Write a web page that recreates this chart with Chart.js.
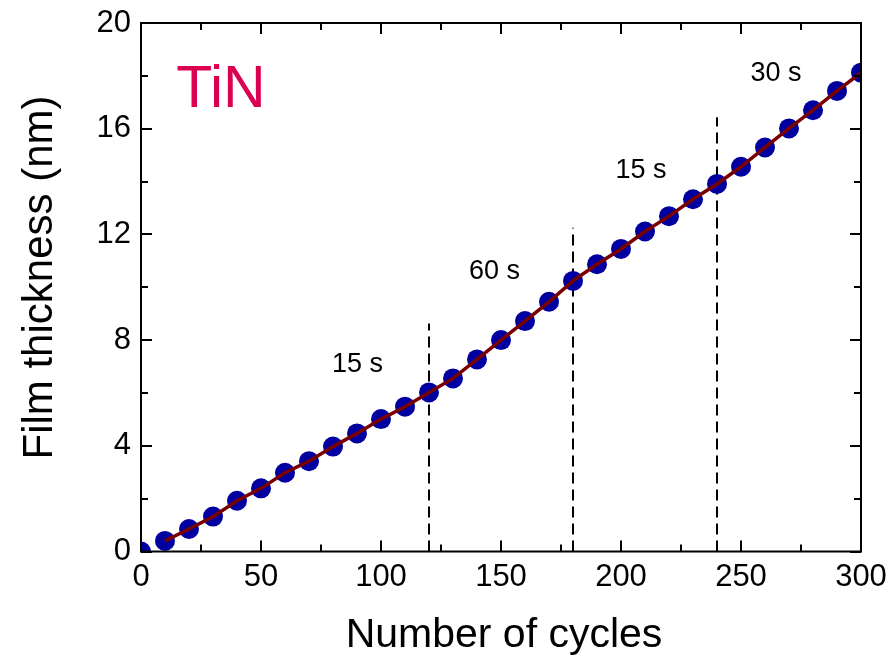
<!DOCTYPE html>
<html>
<head>
<meta charset="utf-8">
<script src="https://cdn.jsdelivr.net/npm/chart.js@4.4.1/dist/chart.umd.min.js"></script>
<style>
  html, body { margin: 0; padding: 0; background: #ffffff; }
  #wrap { width: 892px; height: 660px; position: relative; }
</style>
</head>
<body>
<div id="wrap"><canvas id="c" width="892" height="660"></canvas></div>
<script>
// Film thickness of TiN versus number of ALD cycles
const cycles = [0, 10, 20, 30, 40, 50, 60, 70, 80, 90, 100, 110, 120, 130, 140, 150,
  160, 170, 180, 190, 200, 210, 220, 230, 240, 250, 260, 270, 280, 290, 300];
const thickness = [0, 0.40, 0.85, 1.32, 1.92, 2.39, 2.98, 3.42, 3.97, 4.47, 5.01, 5.48, 6.02,
  6.55, 7.27, 8.00, 8.72, 9.45, 10.24, 10.87, 11.45, 12.11, 12.69, 13.33, 13.91,
  14.56, 15.29, 16.01, 16.70, 17.43, 18.12];

// Cycles where the purge time was changed, and the height of each marker line
const switchCycles = [120, 180, 240];
const switchTops = [8.63, 12.25, 16.43];

// Purge-time annotations (text, cycle, thickness)
const stepLabels = ['15 s', '60 s', '15 s', '30 s'];
const stepLabelX = [90.2, 147.3, 208.3, 264.6];
const stepLabelY = [7.09, 10.61, 14.4, 18.07];

const xTicks = [0, 50, 100, 150, 200, 250, 300];
const yTicks = [0, 4, 8, 12, 16, 20];

const FONT = '"Liberation Sans", Arial, sans-serif';

const points = cycles.map((c, i) => ({ x: c, y: thickness[i] }));
const fitLine = points.slice(1);

const datasets = [
  {
    label: 'fit', type: 'line', data: fitLine, order: 0,
    borderColor: '#7a0000', borderWidth: 3.5, pointRadius: 0, fill: false, tension: 0
  },
  {
    label: 'TiN', type: 'scatter', data: points, order: 1, clip: 0,
    backgroundColor: '#0000a0', borderColor: '#0000a0', borderWidth: 0, pointRadius: 10,
    pointHoverRadius: 10
  }
];
switchCycles.forEach((c, i) => {
  datasets.push({
    label: 'switch' + i, type: 'line', order: 2,
    data: [{ x: c, y: 0 }, { x: c, y: switchTops[i] }],
    borderColor: '#000000', borderWidth: 2, borderDash: [11, 6],
    pointRadius: 0, fill: false
  });
});

// Frame with inward major and minor ticks on all four sides, plus text
const framePlugin = {
  id: 'frame',
  afterDatasetsDraw(chart) {
    const { ctx, chartArea: a, scales: { x, y } } = chart;
    ctx.save();
    ctx.strokeStyle = '#000';
    ctx.lineWidth = 2;
    ctx.beginPath();
    for (let v = 0; v <= 300; v += 25) {
      const px = Math.round(x.getPixelForValue(v));
      const len = v % 50 === 0 ? 11 : 7;
      ctx.moveTo(px, a.bottom); ctx.lineTo(px, a.bottom - len);
      ctx.moveTo(px, a.top); ctx.lineTo(px, a.top + len);
    }
    for (let v = 0; v <= 20; v += 2) {
      const py = Math.round(y.getPixelForValue(v));
      const len = v % 4 === 0 ? 11 : 7;
      ctx.moveTo(a.left, py); ctx.lineTo(a.left + len, py);
      ctx.moveTo(a.right, py); ctx.lineTo(a.right - len, py);
    }
    ctx.stroke();
    ctx.strokeRect(a.left, a.top, a.right - a.left, a.bottom - a.top);

    // purge-time annotations
    ctx.fillStyle = '#000';
    ctx.font = '27px ' + FONT;
    ctx.textAlign = 'center';
    ctx.textBaseline = 'middle';
    stepLabels.forEach((t, i) => {
      ctx.fillText(t, x.getPixelForValue(stepLabelX[i]), y.getPixelForValue(stepLabelY[i]));
    });
    ctx.fillStyle = '#dc0050';
    ctx.font = '59px ' + FONT;
    ctx.fillText('TiN', x.getPixelForValue(33.3), y.getPixelForValue(17.45));

    // axis titles
    ctx.fillStyle = '#000';
    ctx.font = '41px ' + FONT;
    ctx.textBaseline = 'alphabetic';
    ctx.fillText('Number of cycles', 504, 647);
    ctx.save();
    ctx.translate(52, 277.5);
    ctx.rotate(-Math.PI / 2);
    ctx.font = '42px ' + FONT;
    ctx.fillText('Film thickness (nm)', 0, 0);
    ctx.restore();
    ctx.restore();
  }
};

// keep the plot area fixed: tick labels may overhang the layout padding
function noEdgePadding(s) {
  s.paddingTop = 0; s.paddingBottom = 0; s.paddingLeft = 0; s.paddingRight = 0;
}

new Chart(document.getElementById('c'), {
  data: { datasets },
  options: {
    responsive: false,
    animation: false,
    layout: { padding: { left: 0, right: 31, top: 23, bottom: 0 } },
    plugins: { legend: { display: false }, tooltip: { enabled: false } },
    scales: {
      x: {
        type: 'linear', min: 0, max: 300,
        afterBuildTicks: s => { s.ticks = xTicks.map(v => ({ value: v })); },
        afterFit: s => { s.height = 108.5; noEdgePadding(s); },
        grid: { display: false, drawTicks: false },
        border: { display: false },
        ticks: { color: '#000', font: { family: FONT, size: 31 }, padding: 7, maxRotation: 0 }
      },
      y: {
        type: 'linear', min: 0, max: 20,
        afterBuildTicks: s => { s.ticks = yTicks.map(v => ({ value: v })); },
        afterFit: s => { s.width = 141; noEdgePadding(s); },
        grid: { display: false, drawTicks: false },
        border: { display: false },
        ticks: { color: '#000', font: { family: FONT, size: 31 }, padding: 10 }
      }
    }
  },
  plugins: [framePlugin]
});
</script>
</body>
</html>
